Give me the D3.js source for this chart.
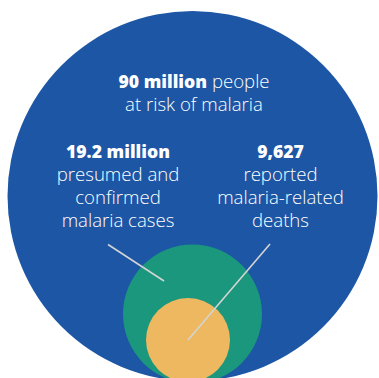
<!DOCTYPE html>
<html><head><meta charset="utf-8">
<script src="https://cdn.jsdelivr.net/npm/d3@7/dist/d3.min.js"></script>
<style>
html,body{margin:0;padding:0;background:#fff;}
svg{display:block;}
text{font-family:"Open Sans",Lato,sans-serif;fill:#fff;}
</style></head>
<body>
<script>
// Data
const categories = ["at risk", "cases", "deaths"];
const values = [90000000, 19200000, 9627];
const valueLabels = ["90 million", "19.2 million", "9,627"];
const descriptions = [
  ["people", "at risk of malaria"],
  ["presumed and", "confirmed", "malaria cases"],
  ["reported", "malaria-related", "deaths"]
];
const colors = ["#1c56a5", "#1a977c", "#edb85f"];

const W = 379, H = 378;
const svg = d3.select("body").append("svg").attr("width", W).attr("height", H);

// Layout (not to scale in the original graphic)
const layout = [
  {cx: 192.5, cy: 196, r: 185},
  {cx: 192.5, cy: 314, r: 69.5},
  {cx: 188, cy: 340, r: 42}
];
const color = d3.scaleOrdinal().domain(categories).range(colors);

const nodes = categories.map((c, i) => ({cat: c, value: values[i], ...layout[i]}));

svg.selectAll("circle.bubble").data(nodes).join("circle")
  .attr("class", "bubble")
  .attr("cx", d => d.cx).attr("cy", d => d.cy).attr("r", d => d.r)
  .attr("fill", d => color(d.cat));

// Leader lines
const leaders = [
  {x1: 108, y1: 244.5, x2: 164, y2: 281},
  {x1: 270, y1: 244, x2: 188, y2: 340}
];
svg.selectAll("line.leader").data(leaders).join("line")
  .attr("class", "leader")
  .attr("x1", d => d.x1).attr("y1", d => d.y1)
  .attr("x2", d => d.x2).attr("y2", d => d.y2)
  .attr("stroke", "#d4d4d4").attr("stroke-width", 1.6);

const fsL = 18.6, fsB = 17.6, lh = 23.3;
// Top label
const t0 = svg.append("text").attr("x", 194).attr("y", 88).attr("text-anchor", "middle");
t0.append("tspan").style("font-size", fsB + "px").style("font-weight", 800).text(valueLabels[0]);
t0.append("tspan").style("font-size", fsL + "px").style("font-weight", 300).text(" " + descriptions[0][0]);
svg.append("text").attr("x", 194).attr("y", 88 + lh).attr("text-anchor", "middle")
  .style("font-size", fsL + "px").style("font-weight", 300).text(descriptions[0][1]);

// Side labels
const sideX = [null, 118, 280.5];
[1, 2].forEach(i => {
  const g = svg.append("g");
  g.append("text").attr("x", sideX[i]).attr("y", 157.5).attr("text-anchor", "middle")
    .style("font-size", fsB + "px").style("font-weight", 800).text(valueLabels[i]);
  descriptions[i].forEach((s, j) => {
    g.append("text").attr("x", sideX[i]).attr("y", 157.5 + lh * (j + 1)).attr("text-anchor", "middle")
      .style("font-size", fsL + "px").style("font-weight", 300).text(s);
  });
});
</script>
</body></html>
